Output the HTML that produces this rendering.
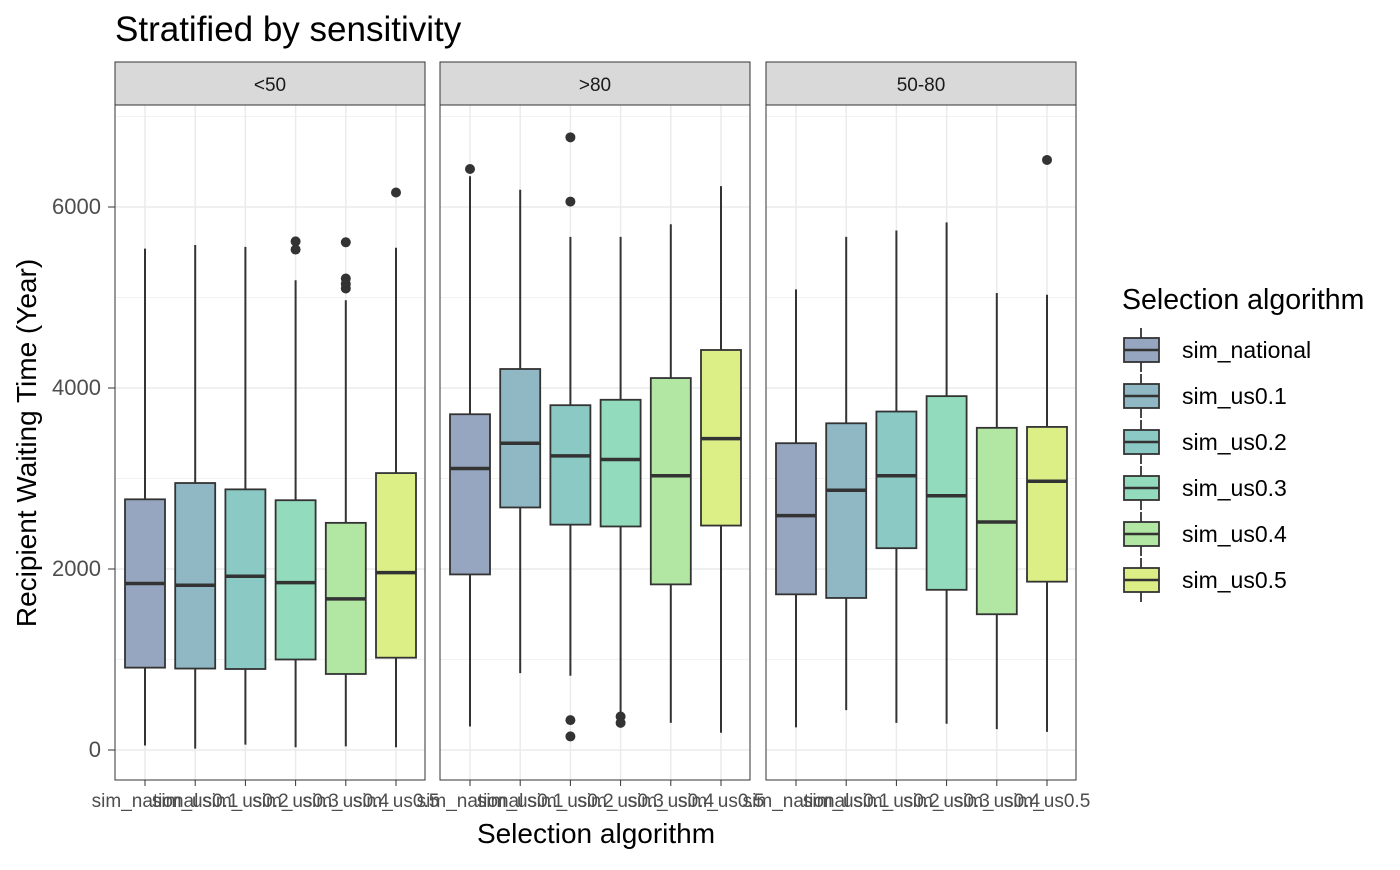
<!DOCTYPE html>
<html><head><meta charset="utf-8"><style>
body{margin:0;background:#fff;font-family:"Liberation Sans",Arial,sans-serif}
</style></head><body>
<svg id="chart" width="1400" height="865" xmlns="http://www.w3.org/2000/svg" font-family="Liberation Sans, Arial, sans-serif">
<text x="115" y="41" font-size="35" fill="#000">Stratified by sensitivity</text>
<text transform="translate(36,443) rotate(-90)" text-anchor="middle" font-size="28" fill="#000">Recipient Waiting Time (Year)</text>
<text x="596" y="843" text-anchor="middle" font-size="28" fill="#000">Selection algorithm</text>
<g id="panels"></g>
<g id="legend"></g>
</svg>
<script>
const panelNames=["<50",">80","50-80"];
const categories=["sim_national","sim_us0.1","sim_us0.2","sim_us0.3","sim_us0.4","sim_us0.5"];
const colors=["#97a6c0","#8fb8c4","#8ac9c4","#92dbbc","#b1e6a3","#dcee86"];
const yTicks=[0,2000,4000,6000];
// [low, q1, median, q3, high] per panel per category
const stats0=[[50,910,1840,2770,5540],[15,900,1820,2950,5580],[60,895,1920,2880,5560],[30,1000,1850,2760,5190],[40,840,1670,2510,4970],[30,1020,1960,3060,5550]];
const stats1=[[260,1940,3110,3710,6340],[850,2680,3390,4210,6190],[820,2490,3250,3810,5670],[380,2470,3210,3870,5670],[300,1830,3030,4110,5810],[190,2480,3440,4420,6230]];
const stats2=[[250,1720,2590,3390,5090],[440,1680,2870,3610,5670],[300,2230,3030,3740,5740],[290,1770,2810,3910,5830],[230,1500,2520,3560,5050],[200,1860,2970,3570,5030]];
const outliers0=[[],[],[],[5620,5530],[5610,5210,5150,5100],[6160]];
const outliers1=[[6420],[],[6770,6060,330,150],[370,300],[],[]];
const outliers2=[[],[],[],[],[],[6520]];
const allStats=[stats0,stats1,stats2];
const allOut=[outliers0,outliers1,outliers2];

const NS="http://www.w3.org/2000/svg";
const panelX=[115,440,766], panelW=310, topY=105, bottomY=780;
const y=v=>750-v*0.0905;
function mk(tag,attrs,parent){const e=document.createElementNS(NS,tag);for(const k in attrs)e.setAttribute(k,attrs[k]);parent.appendChild(e);return e;}
const g=document.getElementById('panels');
panelX.forEach((px,p)=>{
  const pg=mk('g',{},g);
  
  
  const strip=mk('rect',{x:px,y:62,width:panelW,height:43,fill:'#d9d9d9',stroke:'#333','stroke-width':1},pg);
  
  
  const st=mk('text',{x:px+panelW/2,y:91,'text-anchor':'middle','font-size':19,fill:'#1a1a1a'},pg);
  st.textContent=panelNames[p];
  
  
  mk('rect',{x:px,y:topY,width:panelW,height:bottomY-topY,fill:'#fff'},pg);
  for(let v=1000;v<=7000;v+=2000) mk('line',{x1:px,x2:px+panelW,y1:y(v),y2:y(v),stroke:'#f2f2f2','stroke-width':1},pg);
  yTicks.forEach(v=>mk('line',{x1:px,x2:px+panelW,y1:y(v),y2:y(v),stroke:'#ebebeb','stroke-width':1.5},pg));
  const xc=i=>px+30+i*50.2;
  categories.forEach((c,i)=>mk('line',{x1:xc(i),x2:xc(i),y1:topY,y2:bottomY,stroke:'#ebebeb','stroke-width':1.5},pg));
  allStats[p].forEach((s,i)=>{
    const bx=mk('g',{},pg);
    
    
    const x=xc(i);
    mk('line',{x1:x,x2:x,y1:y(s[0]),y2:y(s[4]),stroke:'#333','stroke-width':2},bx);
    mk('rect',{x:x-20,y:y(s[3]),width:40,height:y(s[1])-y(s[3]),fill:colors[i],stroke:'#333','stroke-width':1.8},bx);
    mk('line',{x1:x-20,x2:x+20,y1:y(s[2]),y2:y(s[2]),stroke:'#333','stroke-width':3.5},bx);
    allOut[p][i].forEach(o=>mk('circle',{cx:x,cy:y(o),r:5,fill:'#333'},bx));
    mk('line',{x1:x,x2:x,y1:bottomY,y2:bottomY+6,stroke:'#333','stroke-width':1},pg);
    const t=mk('text',{x:x,y:807,'text-anchor':'middle','font-size':19,fill:'#4d4d4d'},pg);
    t.textContent=categories[i];
    
    
  });
  mk('rect',{x:px,y:topY,width:panelW,height:bottomY-topY,fill:'none',stroke:'#333','stroke-width':1},pg);
});
yTicks.forEach(v=>{
  mk('line',{x1:108,x2:115,y1:y(v),y2:y(v),stroke:'#333'},g);
  const t=mk('text',{x:101,y:y(v)+7,'text-anchor':'end','font-size':22,fill:'#4d4d4d'},g);
  t.textContent=v;
  
  
});
const lg=document.getElementById('legend');
const lt=mk('text',{x:1122,y:309,'font-size':28.5,fill:'#000'},lg);
lt.textContent='Selection algorithm';


categories.forEach((c,i)=>{
  const cy=350+i*46;
  const e=mk('g',{},lg);
  
  
  mk('line',{x1:1141,x2:1141,y1:cy-22,y2:cy+22,stroke:'#333','stroke-width':1.8},e);
  mk('rect',{x:1124,y:cy-12,width:35,height:24,fill:colors[i],stroke:'#333','stroke-width':1.8},e);
  mk('line',{x1:1124,x2:1159,y1:cy,y2:cy,stroke:'#333','stroke-width':2.5},e);
  const t=mk('text',{x:1182,y:cy+8,'font-size':23,fill:'#000'},e);
  t.textContent=c;
});
</script>
</body></html>
